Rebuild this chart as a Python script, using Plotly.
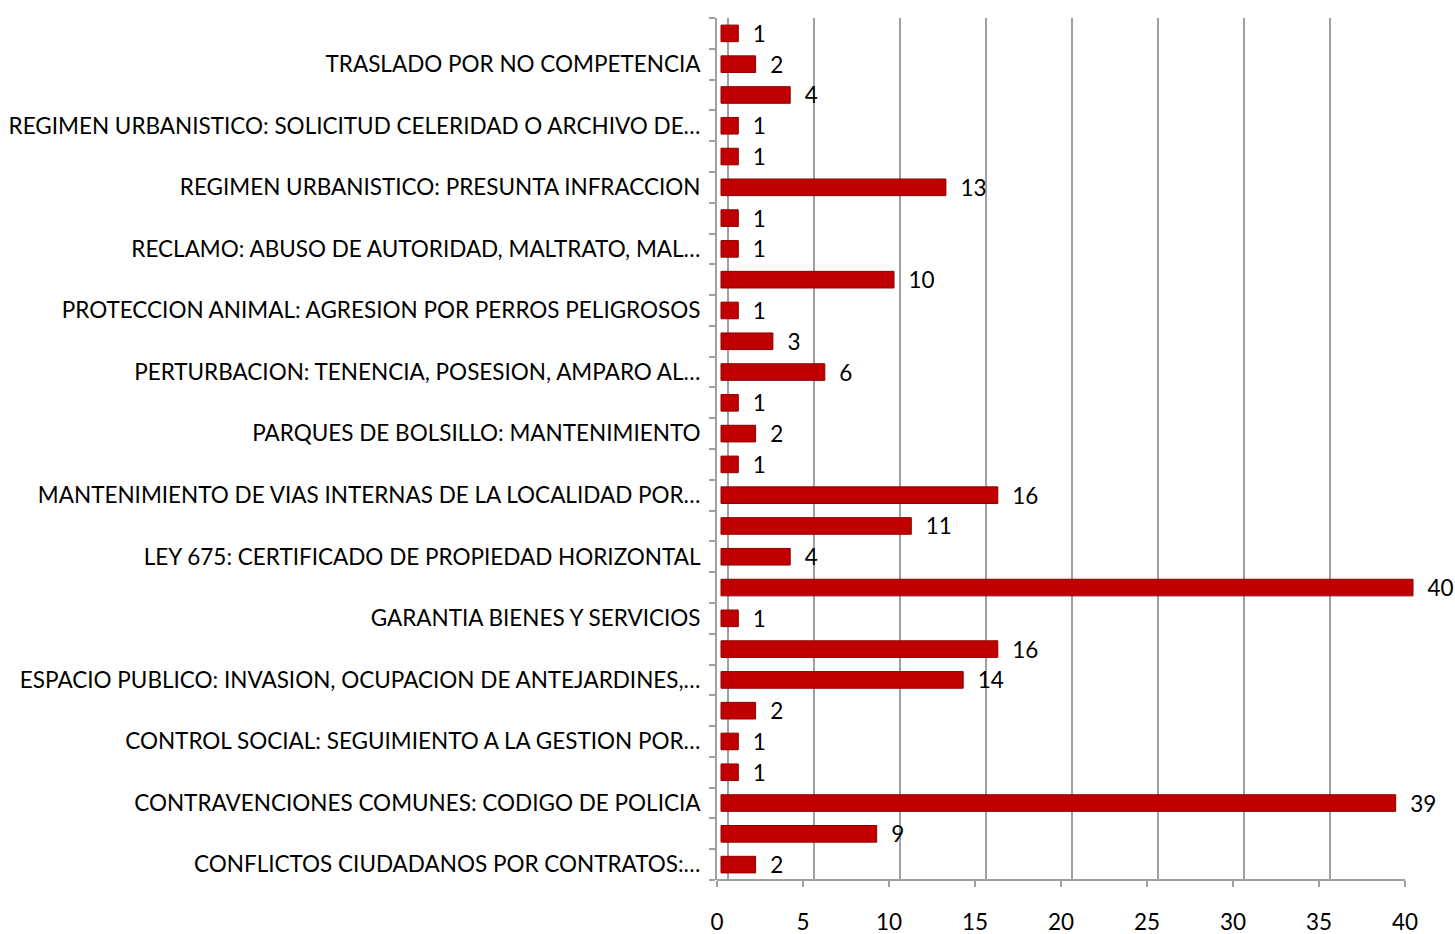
import plotly.graph_objects as go

# values from bottom to top (28 categories)
values = [2, 9, 39, 1, 1, 2, 14, 16, 1, 40, 4, 11, 16, 1, 2, 1, 6, 3, 1, 10, 1, 1, 13, 1, 1, 4, 2, 1]
positions = list(range(len(values)))

label_positions = [0, 2, 4, 6, 8, 10, 12, 14, 16, 18, 20, 22, 24, 26]
label_texts = [
    "CONFLICTOS CIUDADANOS POR CONTRATOS:…",
    "CONTRAVENCIONES COMUNES: CODIGO DE POLICIA",
    "CONTROL SOCIAL: SEGUIMIENTO A LA GESTION POR…",
    "ESPACIO PUBLICO: INVASION, OCUPACION DE ANTEJARDINES,…",
    "GARANTIA BIENES Y SERVICIOS",
    "LEY 675: CERTIFICADO DE PROPIEDAD HORIZONTAL",
    "MANTENIMIENTO DE VIAS INTERNAS DE LA LOCALIDAD POR…",
    "PARQUES DE BOLSILLO: MANTENIMIENTO",
    "PERTURBACION: TENENCIA, POSESION, AMPARO AL…",
    "PROTECCION ANIMAL: AGRESION POR PERROS PELIGROSOS",
    "RECLAMO: ABUSO DE AUTORIDAD, MALTRATO, MAL…",
    "REGIMEN URBANISTICO: PRESUNTA INFRACCION",
    "REGIMEN URBANISTICO: SOLICITUD CELERIDAD O ARCHIVO DE…",
    "TRASLADO POR NO COMPETENCIA",
]
x_ticks = [0, 5, 10, 15, 20, 25, 30, 35, 40]

W, H = 1455, 934
L, R = 717, 1417          # plot area in px
T, B = 18, 880
PX = 17.2                 # px per unit on the front axis
span = (R - L) / PX

FONT = "Lato"
FS = 22.5
GRID = "#A0A0A0"

fig = go.Figure()
fig.add_trace(go.Bar(
    x=values, y=positions, orientation="h",
    xaxis="x3",
    marker=dict(color="#C00000", line=dict(color="#8E0000", width=1)),
    width=0.54,
    text=values, texttemplate="  %{x}", textposition="outside",
    textfont=dict(family=FONT, size=FS, color="#000000"),
    constraintext="none",
    cliponaxis=False,
    hoverinfo="x+y",
))

fig.update_layout(
    width=W, height=H,
    margin=dict(l=L, r=W - R, t=T, b=H - B, autoexpand=False),
    paper_bgcolor="white", plot_bgcolor="white",
    showlegend=False,
    font=dict(family=FONT, size=FS, color="#000000"),
    xaxis=dict(
        range=[0, span], tickvals=x_ticks, showgrid=False, zeroline=False,
        showline=False, ticks="outside", ticklen=6, tickcolor=GRID, tickwidth=2,
        ticklabelstandoff=16, tickfont=dict(family=FONT, size=FS, color="#000000"),
    ),
    xaxis2=dict(
        overlaying="x", side="bottom", range=[-11 / PX, span - 11 / PX],
        tickvals=x_ticks, showgrid=True, gridcolor=GRID, gridwidth=2,
        showticklabels=False, ticks="", zeroline=False, showline=False,
    ),
    xaxis3=dict(
        overlaying="x", side="bottom", range=[-4 / 17.3, (R - L) / 17.3 - 4 / 17.3],
        showgrid=False, showticklabels=False, ticks="", zeroline=False, showline=False,
    ),
    yaxis=dict(
        range=[-0.5, len(values) - 0.5], tickvals=label_positions, ticktext=label_texts,
        showgrid=False, zeroline=False, showline=True, linecolor=GRID, linewidth=2,
        ticks="", ticklabelstandoff=10,
        minor=dict(tick0=-0.5, dtick=1, ticks="outside", ticklen=6, tickcolor=GRID, tickwidth=2, showgrid=False),
        tickfont=dict(family=FONT, size=FS, color="#000000"),
    ),
    bargap=0.5,
)

# front bottom edge of the floor
fig.add_shape(type="line", xref="x", yref="paper", x0=0, x1=40, y0=0, y1=0,
              line=dict(color=GRID, width=2))
fig.add_trace(go.Scatter(x=[0, 0], y=[-0.5, -0.5], xaxis="x2", mode="markers",
                         marker=dict(size=0.1, color="rgba(0,0,0,0)"), hoverinfo="skip"))

fig.write_html(
    "out.html",
    config={"displayModeBar": False},
    post_script="document.body.style.margin='0';document.body.style.overflow='hidden';",
)
